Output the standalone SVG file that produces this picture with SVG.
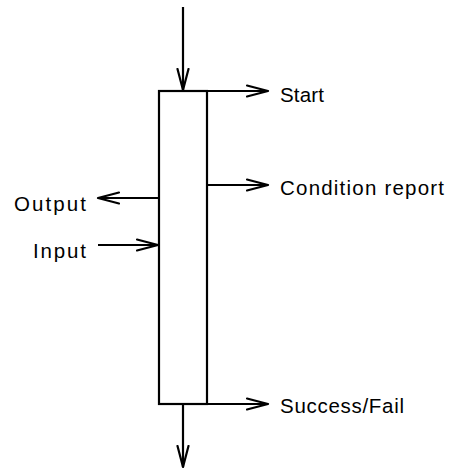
<svg xmlns="http://www.w3.org/2000/svg" width="450" height="475" viewBox="0 0 450 475">
<defs>
<marker id="ah" viewBox="0 0 24 14" refX="22" refY="7" markerWidth="24" markerHeight="14" markerUnits="userSpaceOnUse" orient="auto">
<path d="M1,1.5 L22,7 L1,12.5" fill="none" stroke="#000" stroke-width="2.2" stroke-linejoin="round" stroke-linecap="round"/>
</marker>
<style>
.ln{stroke:#000;stroke-width:2.2;fill:none}
.t{font-family:"Liberation Sans",Arial,sans-serif;font-size:20.5px;fill:#000}
</style>
</defs>
<rect width="450" height="475" fill="#fff"/>
<g id="block">
<rect x="159" y="91" width="48" height="313" class="ln"/>
</g>
<g id="connectors">
<line x1="183" y1="7" x2="183" y2="90" class="ln" marker-end="url(#ah)"/>
<line x1="183" y1="404" x2="183" y2="467" class="ln" marker-end="url(#ah)"/>
<line x1="207" y1="91" x2="268" y2="91" class="ln" marker-end="url(#ah)"/>
<line x1="207" y1="185" x2="268" y2="185" class="ln" marker-end="url(#ah)"/>
<line x1="159" y1="198" x2="98" y2="198" class="ln" marker-end="url(#ah)"/>
<line x1="98" y1="245" x2="158" y2="245" class="ln" marker-end="url(#ah)"/>
<line x1="207" y1="404" x2="268" y2="404" class="ln" marker-end="url(#ah)"/>
</g>
<g id="labels">
<text class="t" x="280" y="102" textLength="44">Start</text>
<text class="t" x="280" y="195" textLength="164">Condition report</text>
<text class="t" x="14" y="211" textLength="72">Output</text>
<text class="t" x="33" y="258" textLength="53">Input</text>
<text class="t" x="280" y="413" textLength="124">Success/Fail</text>
</g>
</svg>
